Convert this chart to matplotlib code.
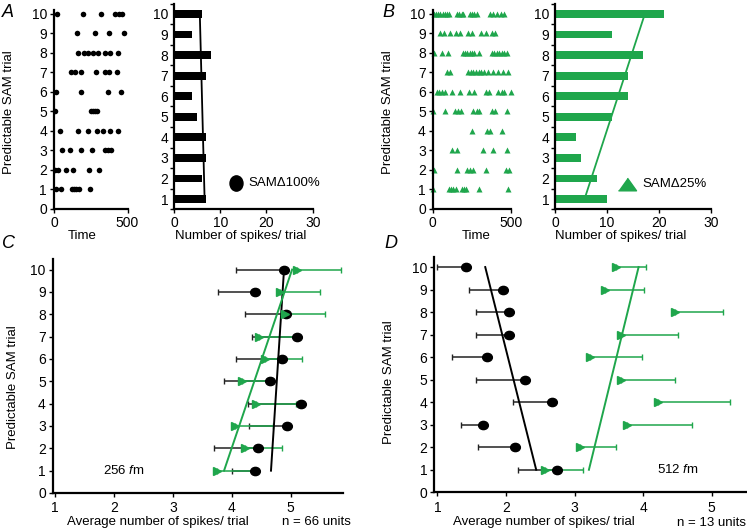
import numpy as np
import matplotlib
matplotlib.use("Agg")
import matplotlib.pyplot as plt
from matplotlib.markers import MarkerStyle
from matplotlib.transforms import Affine2D

plt.rcParams['font.family'] = ['Liberation Sans', 'DejaVu Sans']
plt.rcParams['mathtext.fontset'] = 'custom'
plt.rcParams['mathtext.rm'] = 'Liberation Sans'
plt.rcParams['mathtext.it'] = 'Liberation Sans:italic'

GREEN = '#1fa64c'

trials = np.arange(1, 11)

# spike times (raster), one list per trial 1..10
a_spikes = [
    [11, 46, 122, 135, 149, 167, 248],
    [5, 28, 80, 126, 241, 303],
    [57, 110, 183, 257, 344, 367, 390],
    [41, 161, 234, 294, 333, 378, 436],
    [5, 252, 266, 280, 294],
    [11, 183, 367, 459],
    [115, 142, 183, 287, 349, 372, 431],
    [161, 206, 234, 264, 298, 349, 381, 436],
    [156, 280, 372, 477],
    [18, 195, 317, 417, 440, 463],
]
b_spikes = [
    [4, 102, 117, 132, 147, 185, 200, 213, 298, 483],
    [9, 157, 221, 238, 255, 340, 468, 489],
    [121, 157, 319, 387, 472],
    [249, 345, 366, 440],
    [4, 79, 143, 164, 179, 260, 281, 298, 377, 398, 472],
    [26, 43, 60, 81, 124, 172, 232, 264, 339, 361, 418, 440, 457, 498],
    [94, 111, 223, 243, 260, 277, 294, 311, 328, 355, 387, 419, 451, 483],
    [9, 57, 100, 196, 207, 222, 236, 249, 266, 298, 377, 394, 409, 426, 440, 455, 472],
    [47, 69, 112, 150, 172, 225, 251, 311, 343, 376, 401],
    [9, 21, 34, 47, 64, 79, 94, 106, 157, 170, 187, 196, 238, 251, 266, 281,
     366, 387, 409, 434, 455],
]
a_counts = [7, 6, 7, 7, 5, 4, 7, 8, 4, 6]
b_counts = [10, 8, 5, 4, 11, 14, 14, 17, 11, 21]

# population averages (C: 256 fm, D: 512 fm)
c_black_mean = [4.39, 4.45, 4.94, 5.17, 4.65, 4.86, 5.11, 4.93, 4.39, 4.89]
c_black_lo = [4.00, 3.70, 4.30, 4.28, 3.87, 4.08, 4.35, 4.23, 3.76, 4.07]
c_green_mean = [3.75, 4.22, 4.06, 4.42, 4.17, 4.56, 4.47, 4.90, 4.82, 5.11]
c_green_hi = [4.37, 4.85, 4.70, 5.10, 4.62, 5.20, 5.07, 5.58, 5.50, 5.86]

d_black_mean = [2.75, 2.13, 1.66, 2.67, 2.28, 1.73, 2.05, 2.05, 1.96, 1.42]
d_black_lo = [2.18, 1.60, 1.35, 2.11, 1.57, 1.21, 1.56, 1.57, 1.46, 1.00]
d_green_mean = [2.57, 3.08, 3.76, 4.22, 3.68, 3.22, 3.68, 4.46, 3.45, 3.60]
d_green_hi = [3.12, 3.60, 4.71, 5.26, 4.46, 3.99, 4.51, 5.16, 4.01, 4.04]

W, H = 747, 530
fig = plt.figure(figsize=(W / 100, H / 100), dpi=100)


def px_axes(x0, x1, ytop, ybot):
    return fig.add_axes([x0 / W, 1 - ybot / H, (x1 - x0) / W, (ybot - ytop) / H])


def style(ax):
    for s in ['top', 'right']:
        ax.spines[s].set_visible(False)
    for s in ['left', 'bottom']:
        ax.spines[s].set_linewidth(1.6)
    ax.tick_params(direction='out', length=3, width=1, labelsize=10, pad=2)


tall_dot = MarkerStyle('o', transform=Affine2D().scale(0.85, 1.0))
wide_dot = MarkerStyle('o', transform=Affine2D().scale(1.0, 0.85))
flat_tri = [(-1, -0.7), (1, -0.7), (0, 0.7)]


def raster(ax, spikes, color, marker, ms, label_x):
    for i, t in zip(trials, spikes):
        ax.plot(t, [i] * len(t), ls='none', marker=marker, ms=ms, color=color,
                mec='none', clip_on=False)
    ax.set_xlim(0, 500)
    ax.set_ylim(0, 10.2)
    ax.set_xticks([0, 500])
    ax.set_yticks(range(0, 11))
    ax.set_xlabel('Time', fontsize=9.5, va='top')
    ax.xaxis.set_label_coords(label_x, -0.103)
    ax.set_ylabel('Predictable SAM trial', fontsize=9.5)
    style(ax)


def bars(ax, counts, color, label_x):
    ax.barh(trials, counts, height=0.38, color=color)
    fit = np.polyfit(trials, counts, 1)
    ax.plot(np.polyval(fit, [1, 10]), [1, 10], color=color, lw=1.3)
    ax.set_xlim(0, 30)
    ax.set_ylim(0.5, 10.5)
    ax.set_xticks([0, 10, 20, 30])
    ax.set_yticks(trials)
    ax.set_yticks(np.arange(0.5, 11, 1), minor=True)
    style(ax)
    ax.tick_params(axis='y', which='major', length=0, pad=4)
    ax.tick_params(axis='y', which='minor', length=3, width=1)
    ax.set_xlabel('Number of spikes/ trial', fontsize=9.5, va='top')
    ax.xaxis.set_label_coords(label_x, -0.1)


# ---- A ----
ax = px_axes(54, 127.5, 9.6, 209)
raster(ax, a_spikes, 'k', 'o', 4.0, 0.39)
ax.yaxis.set_label_coords(-0.53, 0.486)
ax = px_axes(174, 312.7, 3.7, 209.3)
bars(ax, a_counts, 'k', 0.483)
ax.plot([13.5], [1.8], ls='none', marker=tall_dot, ms=11, color='k')
ax.text(16.2, 1.8, 'SAM\u0394100%', fontsize=9.5, va='center')

# ---- B ----
ax = px_axes(432.7, 511, 9.6, 209)
raster(ax, b_spikes, GREEN, '^', 4.4, 0.56)
ax.yaxis.set_label_coords(-0.494, 0.488)
ax = px_axes(555, 710.7, 3.7, 209.3)
bars(ax, b_counts, GREEN, 0.423)
ax.plot([13.9], [1.75], ls='none', marker=flat_tri, ms=13, color=GREEN)
ax.text(16.9, 1.75, 'SAM\u039425%', fontsize=9.5, va='center')


def averages(ax, bm, blo, gm, ghi, xlim, label_x):
    bm, blo, gm, ghi = map(np.asarray, (bm, blo, gm, ghi))
    ax.errorbar(bm, trials, xerr=[bm - blo, np.zeros(10)], fmt='none',
                ecolor='#222222', elinewidth=1.1, capsize=2.5, capthick=1)
    ax.errorbar(gm, trials, xerr=[np.zeros(10), ghi - gm], fmt='none',
                ecolor=GREEN, elinewidth=1.1, capsize=2.5, capthick=1)
    ax.plot(bm, trials, ls='none', marker=wide_dot, ms=7, color='k', zorder=4)
    ax.plot(gm, trials, ls='none', marker='>', ms=5.5, color=GREEN, zorder=4)
    fb = np.polyfit(trials, bm, 1)
    fg = np.polyfit(trials, gm, 1)
    ax.plot(np.polyval(fb, [1, 10]), [1, 10], color='k', lw=1.4, zorder=3)
    ax.plot(np.polyval(fg, [1, 10]), [1, 10], color=GREEN, lw=1.4, zorder=3)
    ax.set_xlim(*xlim)
    ax.set_ylim(0, 10.46)
    ax.set_xticks([1, 2, 3, 4, 5])
    ax.set_yticks(range(0, 11))
    style(ax)
    ax.tick_params(axis='x', pad=3)
    ax.set_xlabel('Average number of spikes/ trial', fontsize=9.5, va='top')
    ax.xaxis.set_label_coords(label_x, -0.1)
    ax.set_ylabel('Predictable SAM trial', fontsize=9.5)


# ---- C ----
ax = px_axes(52.7, 343, 259.3, 493)
averages(ax, c_black_mean, c_black_lo, c_green_mean, c_green_hi, (0.961, 5.89), 0.361)
ax.yaxis.set_label_coords(-0.115, 0.455)
ax.text(1.81, 1, '256 $\\mathit{f}$m', fontsize=9.5, va='center')
fig.text(281.7 / W, 1 - 521.7 / H, 'n = 66 units', fontsize=9.5, va='center')

# ---- D ----
ax = px_axes(434.3, 746.7, 256.7, 492.3)
averages(ax, d_black_mean, d_black_lo, d_green_mean, d_green_hi, (0.956, 5.51), 0.351)
ax.yaxis.set_label_coords(-0.126, 0.469)
ax.text(4.2, 1, '512 $\\mathit{f}$m', fontsize=9.5, va='center')
fig.text(746 / W, 1 - 523.3 / H, 'n = 13 units', fontsize=9.5, va='center', ha='right')

# panel letters
for x, y, s in [(1.5, 16.7, 'A'), (382.5, 16.7, 'B'), (2, 248, 'C'), (384, 248, 'D')]:
    fig.text(x / W, 1 - y / H, s, fontsize=13, style='italic', va='baseline')

fig.savefig('out.png', dpi=100)
